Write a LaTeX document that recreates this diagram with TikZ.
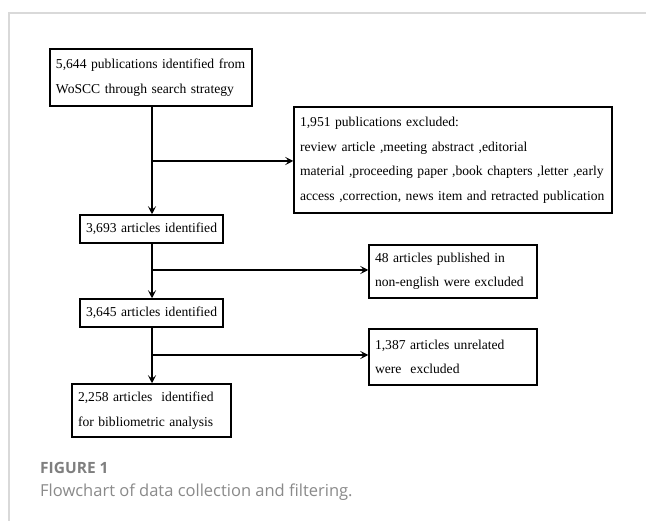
\documentclass[tikz,border=0pt]{standalone}
\usepackage{fontspec}
\setmainfont{Liberation Serif}
\newfontfamily\capfont{Open Sans}
\usetikzlibrary{arrows.meta}
\definecolor{framegray}{HTML}{D9D9D9}
\definecolor{capgray}{HTML}{7F7F7F}
\definecolor{captxt}{HTML}{8A8A8A}
\begin{document}
\begin{tikzpicture}[x=1pt,y=-1pt,
  flowbox/.style={draw=black, line width=1.5pt, inner xsep=6pt, inner ysep=0pt,
    align=left, font=\fontsize{13.6}{24.5}\selectfont, anchor=center},
  flowarrow/.style={line width=1.6pt, -{Stealth[length=8pt,width=8pt,inset=3.5pt]}},
  flowline/.style={line width=1.6pt}]
\useasboundingbox (0,0) rectangle (646,521);
\fill[white] (0,0) rectangle (646,521);
% frame
\draw[framegray, line width=1.5pt] (9,521) -- (9,13) -- (646,13);
% boxes
\node[flowbox, text width=190pt, minimum height=57pt] (b1) at (151,77.5)
  {\mbox{5,644 publications identified from}\\\mbox{WoSCC through search strategy}};
\node[flowbox, text width=306pt, minimum height=106pt] (b2) at (453,160)
  {\mbox{1,951 publications excluded:}\\\mbox{review article ,meeting abstract ,editorial}\\\mbox{material ,proceeding paper ,book chapters ,letter ,early}\\\mbox{access ,correction, news item and retracted publication}};
\node[flowbox, text width=131pt, minimum height=28pt] (b3) at (151.5,229)
  {\mbox{3,693 articles identified}};
\node[flowbox, text width=156pt, minimum height=53pt] (b4) at (453,271.5)
  {\mbox{48 articles published in}\\\mbox{non-english were excluded}};
\node[flowbox, text width=131pt, minimum height=28pt] (b5) at (151.5,313)
  {\mbox{3,645 articles identified}};
\node[flowbox, text width=156pt, minimum height=56pt] (b6) at (453,357)
  {\mbox{1,387 articles unrelated}\\\mbox{were\ \ excluded}};
\node[flowbox, text width=147pt, minimum height=53pt] (b7) at (151.5,410.5)
  {\mbox{2,258 articles\ \ identified}\\\mbox{for bibliometric analysis}};
% branch points
\coordinate (j1) at (152,161);
\coordinate (j2) at (152,270);
\coordinate (j3) at (152,355);
% connectors
\draw[flowarrow] (b1.south -| j1) -- (b3.north -| j1);
\draw[flowarrow] (j1) -- (j1 -| b2.west);
\draw[flowarrow] (b3.south -| j2) -- (b5.north -| j2);
\draw[flowarrow] (j2) -- (j2 -| b4.west);
\draw[flowarrow] (b5.south -| j3) -- (b7.north -| j3);
\draw[flowarrow] (j3) -- (j3 -| b6.west);
% caption
\node[anchor=west, inner sep=0pt, text=capgray, font=\capfont\bfseries\fontsize{15.5}{17}\selectfont] (cap1) at (40,468) {FIGURE 1};
\node[anchor=west, inner sep=0pt, text=captxt, font=\capfont\fontsize{16.5}{19}\selectfont] (cap2) at (40,492) {Flowchart of data collection and filtering.};
\end{tikzpicture}
\end{document}
